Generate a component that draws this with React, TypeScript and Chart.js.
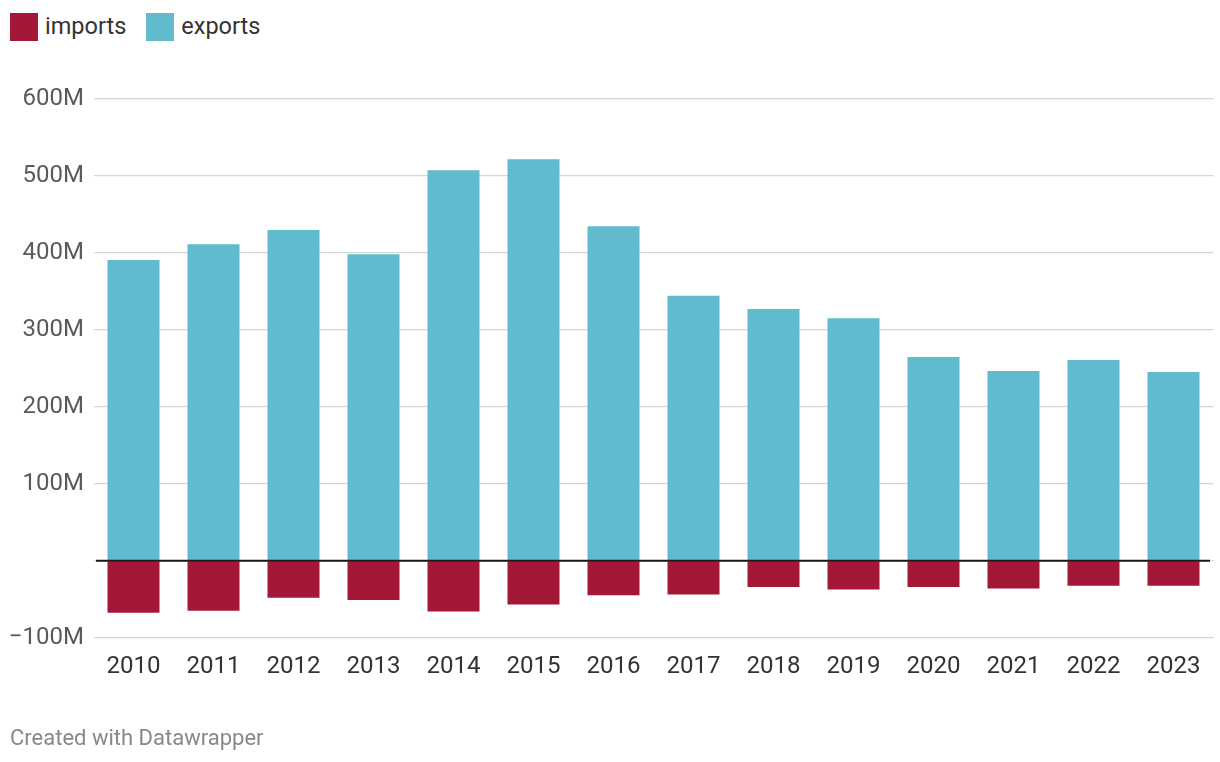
import React, { useEffect, useRef } from "react";
import { Chart, registerables } from "chart.js";

Chart.register(...registerables);

const years = ["2010", "2011", "2012", "2013", "2014", "2015", "2016", "2017", "2018", "2019", "2020", "2021", "2022", "2023"];
const exportsM = [390.5, 411, 429.5, 398, 507, 521.5, 434.5, 344, 327, 315, 264.5, 246.5, 260.5, 245];
const importsM = [-67.5, -65, -48, -51, -66, -57, -45, -44, -34, -37.5, -34, -36, -32.5, -32.5];
const yTicks = [-100, 0, 100, 200, 300, 400, 500, 600];

const IMPORT_COLOR = "#a41837";
const EXPORT_COLOR = "#62bacf";
const FONT = "Roboto, 'Noto Sans', sans-serif";

const zeroLinePlugin = {
  id: "zeroLine",
  afterDatasetsDraw(chart: any) {
    const y = chart.scales.y.getPixelForValue(0);
    const { left, right } = chart.chartArea;
    const ctx = chart.ctx;
    ctx.save();
    ctx.strokeStyle = "#1a1a1a";
    ctx.lineWidth = 2;
    ctx.beginPath();
    ctx.moveTo(left + 2.5, y);
    ctx.lineTo(right - 3.5, y);
    ctx.stroke();
    ctx.restore();
  },
};

export default function App() {
  const ref = useRef<HTMLCanvasElement>(null);
  useEffect(() => {
    if (!ref.current) return;
    const chart = new Chart(ref.current, {
      type: "bar",
      data: {
        labels: years,
        datasets: [
          { label: "imports", data: importsM.map((v) => v * 1e6), backgroundColor: IMPORT_COLOR },
          { label: "exports", data: exportsM.map((v) => v * 1e6), backgroundColor: EXPORT_COLOR },
        ],
      },
      options: {
        animation: false,
        responsive: false,
        devicePixelRatio: 1,
        layout: { padding: { top: 98.7, right: 6.5, left: 0, bottom: 0 } },
        plugins: { legend: { display: false }, tooltip: { enabled: false } },
        datasets: { bar: { barPercentage: 0.65, categoryPercentage: 1 } } as any,
        scales: {
          x: {
            stacked: true,
            grid: { display: false },
            border: { display: false },
            ticks: { color: "#333333", font: { family: FONT, size: 24 }, padding: 7, maxRotation: 0 },
            afterFit: (s: any) => { s.height = 124.3; },
          },
          y: {
            stacked: true,
            min: yTicks[0] * 1e6,
            max: yTicks[yTicks.length - 1] * 1e6,
            afterBuildTicks: (s: any) => { s.ticks = yTicks.map((v) => ({ value: v * 1e6 })); },
            grid: { color: "#d6d6d6", lineWidth: 1.2, drawTicks: false },
            border: { display: false },
            ticks: {
              color: "#5a5a5a",
              font: { family: FONT, size: 24 },
              padding: 9.5,
              callback: (v: any) => {
                const m = Math.round(Number(v) / 1e6);
                if (m === 0) return "";
                return m < 0 ? "\u2212" + Math.abs(m) + "M" : m + "M";
              },
            },
            afterFit: (s: any) => { s.width = 93.5; },
          },
        },
      },
      plugins: [zeroLinePlugin],
    });
    return () => chart.destroy();
  }, []);

  const legendText: React.CSSProperties = { fontFamily: FONT, fontSize: 23.5, color: "#333", lineHeight: "28px" };
  const sq = (c: string): React.CSSProperties => ({ width: 28, height: 28, background: c, marginRight: 7 });

  return (
    <div style={{ position: "absolute", left: 0, top: 0, width: 1220, height: 762, background: "#fff" }}>
      <div style={{ position: "absolute", left: 10, top: 13, display: "flex", alignItems: "center", height: 28 }}>
        <div style={sq(IMPORT_COLOR)} />
        <span style={{ ...legendText, marginRight: 20, marginTop: -2 }}>imports</span>
        <div style={sq(EXPORT_COLOR)} />
        <span style={{ ...legendText, marginTop: -2 }}>exports</span>
      </div>
      <canvas ref={ref} width={1220} height={762} style={{ position: "absolute", left: 0, top: 0, width: 1220, height: 762 }} />
      <div style={{ position: "absolute", left: 10, top: 724, fontFamily: FONT, fontSize: 22, color: "#888", lineHeight: "28px" }}>
        Created with Datawrapper
      </div>
    </div>
  );
}
